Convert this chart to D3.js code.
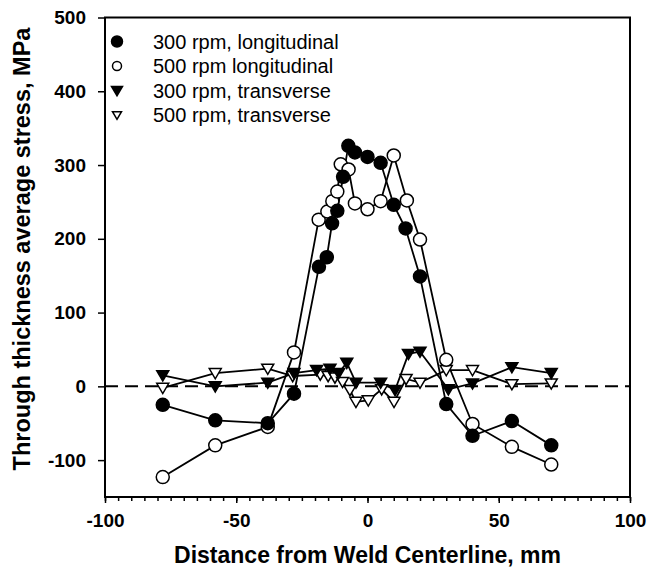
<!DOCTYPE html>
<html>
<head>
<meta charset="utf-8">
<script src="https://cdn.jsdelivr.net/npm/d3@7"></script>
<style>
  html, body { margin: 0; padding: 0; background: #fff; }
  svg { display: block; font-family: "Liberation Sans", Arial, Helvetica, sans-serif; }
</style>
</head>
<body>
<svg id="chart" width="647" height="575"></svg>
<script>
// Through-thickness average residual stress vs distance from weld centerline
const longPos300 = [-78, -58, -38, -28, -18.5, -15.5, -13.5, -11.5, -9.3, -7.3, -4.8, 0, 5, 10, 14.5, 20, 30, 40, 55, 70];
const longVal300 = [-25, -46, -50, -10, 162, 175, 221, 238, 284, 326, 317, 311, 303, 246, 214, 149, -24, -67, -47, -80];

const longPos500 = [-78, -58, -38, -28, -18.6, -15.3, -13.4, -11.5, -10.2, -7.2, -4.8, 0, 5, 10, 15, 20, 30, 40, 55, 70];
const longVal500 = [-123, -80, -55, 46, 226, 237, 251, 264, 301, 294, 248, 240, 251, 313, 252, 199, 36, -51, -82, -106];

const transPos300 = [-78, -58, -38, -28, -19.4, -14.3, -11, -7.9, -4.4, 5, 10.5, 15.6, 20, 30.8, 40, 55, 70];
const transVal300 = [15, 0, 5, 18, 22, 24, 18, 32, 5, 5, -5, 44, 47, -4, 4, 26, 18];

const transPos500 = [-78, -58, -38, -28.5, -18, -15, -12.4, -9.5, -6.7, -4.4, 0.3, 5.4, 10.1, 14.7, 20, 30, 40, 55, 70];
const transVal500 = [-2, 18, 24, 14, 16, 14, 12, 6, -5, -21, -19, -4, -21, 10, 5, 22, 22, 3, 4];

const seriesNames = ["300 rpm, longitudinal", "500 rpm longitudinal", "300 rpm, transverse", "500 rpm, transverse"];

const xTicks = [-100, -50, 0, 50, 100];
const yTicks = [-100, 0, 100, 200, 300, 400, 500];

const xTitle = "Distance from Weld Centerline, mm";
const yTitle = "Through thickness average stress, MPa";

const svg = d3.select("#chart");
const plotLeft = 105, plotRight = 630, plotTop = 17.5, plotBottom = 497;
const FONT = "Liberation Sans, Arial, Helvetica, sans-serif";

const x = d3.scaleLinear().domain([-100, 100]).range([plotLeft, plotRight]);
const y = d3.scaleLinear().domain([-150, 500]).range([plotBottom, plotTop]);
const plainNum = d => String(d);

// frame
svg.append("rect")
  .attr("x", plotLeft).attr("y", plotTop)
  .attr("width", plotRight - plotLeft).attr("height", plotBottom - plotTop)
  .attr("fill", "none").attr("stroke", "#000").attr("stroke-width", 2);

// zero reference line
svg.append("line")
  .attr("x1", x(-100)).attr("x2", x(100))
  .attr("y1", y(0)).attr("y2", y(0))
  .attr("stroke", "#000").attr("stroke-width", 2)
  .attr("stroke-dasharray", "13,7");

// x axis: minor ticks every 5 mm, labelled ticks every 50 mm
const xAxisG = svg.append("g").attr("transform", `translate(0,${plotBottom})`);
xAxisG.call(d3.axisBottom(x).tickValues(d3.range(-100, 100.1, 5)).tickSize(4).tickFormat(""));
xAxisG.call(g => g.select(".domain").remove());
xAxisG.selectAll("line").attr("stroke-width", 1.5);
const xMajor = svg.append("g").attr("transform", `translate(0,${plotBottom})`)
  .call(d3.axisBottom(x).tickValues(xTicks).tickSize(6).tickPadding(11).tickFormat(plainNum));
xMajor.select(".domain").remove();
xMajor.selectAll("line").attr("stroke-width", 1.5);
xMajor.selectAll("text")
  .attr("font-size", 19).attr("font-weight", "bold").attr("fill", "#000")
  .attr("font-family", FONT);

// y axis
const yAxisG = svg.append("g").attr("transform", `translate(${plotLeft},0)`)
  .call(d3.axisLeft(y).tickValues(yTicks).tickSize(7).tickPadding(12).tickFormat(plainNum));
yAxisG.select(".domain").remove();
yAxisG.selectAll("line").attr("stroke-width", 1.5);
yAxisG.selectAll("text")
  .attr("font-size", 19).attr("font-weight", "bold").attr("fill", "#000")
  .attr("font-family", FONT);

// axis titles
svg.append("text")
  .attr("x", (plotLeft + plotRight) / 2).attr("y", 563)
  .attr("text-anchor", "middle")
  .attr("font-size", 23).attr("font-weight", "bold")
  .text(xTitle);

svg.append("text")
  .attr("transform", `translate(30,249) rotate(-90)`)
  .attr("text-anchor", "middle")
  .attr("font-size", 23.5).attr("font-weight", "bold")
  .text(yTitle);

const line = d3.line().x(d => x(d[0])).y(d => y(d[1]));
const zip = (a, b) => a.map((v, i) => [v, b[i]]);

const series = [
  { name: seriesNames[0], pts: zip(longPos300, longVal300), shape: "circle", fill: "#000" },
  { name: seriesNames[1], pts: zip(longPos500, longVal500), shape: "circle", fill: "#fff" },
  { name: seriesNames[2], pts: zip(transPos300, transVal300), shape: "tri", fill: "#000" },
  { name: seriesNames[3], pts: zip(transPos500, transVal500), shape: "tri", fill: "#fff" }
];

const triPath = s => `M${-s},${-s * 0.75}L${s},${-s * 0.75}L0,${s * 0.95}Z`;

function marker(g, shape, fill, cx, cy, size) {
  if (shape === "circle") {
    g.append("circle").attr("cx", cx).attr("cy", cy).attr("r", size)
      .attr("fill", fill).attr("stroke", "#000").attr("stroke-width", 1.5);
  } else {
    g.append("path").attr("d", triPath(size))
      .attr("transform", `translate(${cx},${cy})`)
      .attr("fill", fill).attr("stroke", "#000").attr("stroke-width", 1.5);
  }
}

// lines first, then markers on top
const plot = svg.append("g");
series.forEach(s => {
  plot.append("path").datum(s.pts).attr("d", line)
    .attr("fill", "none").attr("stroke", "#000").attr("stroke-width", 1.8);
});
series.slice().reverse().forEach(s => {
  const g = plot.append("g");
  s.pts.forEach(p => marker(g, s.shape, s.fill, x(p[0]), y(p[1]), s.shape === "circle" ? 6.5 : 6));
});

// legend
const legend = svg.append("g");
const legendRows = [41.5, 66, 90.5, 115];
series.forEach((s, i) => {
  const open = s.fill === "#fff";
  marker(legend, s.shape, s.fill, 117, legendRows[i], s.shape === "circle" ? (open ? 4.5 : 5.5) : (open ? 4.5 : 5.5));
  legend.append("text")
    .attr("x", 153).attr("y", legendRows[i]).attr("dy", "0.35em")
    .attr("font-size", 20).attr("fill", "#000")
    .attr("font-family", FONT)
    .text(s.name);
});
</script>
</body>
</html>
